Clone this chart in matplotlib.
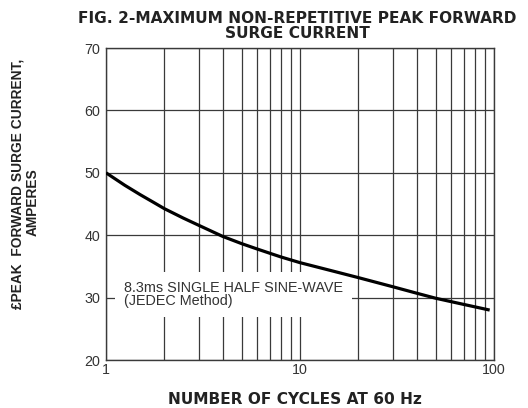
"""Fig. 2 - maximum non-repetitive peak forward surge current (datasheet curve)."""

import matplotlib
matplotlib.use("Agg")
import matplotlib.pyplot as plt
from matplotlib.ticker import LogLocator, FixedLocator, NullFormatter

plt.rcParams["font.family"] = ["Liberation Sans", "DejaVu Sans"]

# ---------- data -----------------------------------------------------------
cycles = [1, 1.25, 1.5, 1.75, 2, 2.5, 3, 4, 5, 6, 7, 8, 10, 15, 20, 30, 40, 50, 70, 95]
surge_amps = [50.0, 48.0, 46.5, 45.3, 44.25, 42.75, 41.6, 39.8, 38.65, 37.8, 37.1,
              36.5, 35.6, 34.2, 33.2, 31.75, 30.7, 29.9, 28.9, 28.0]

y_ticks = [20, 30, 40, 50, 60, 70]
x_ticks = [1, 10, 100]
x_ticklabels = ["1", "10", "100"]

title = "FIG. 2-MAXIMUM NON-REPETITIVE PEAK FORWARD\nSURGE CURRENT"
note = "8.3ms SINGLE HALF SINE-WAVE\n(JEDEC Method)"

grid_col = "#3a3a3a"
bold_font = ["DejaVu Sans"]

# ---------- figure ---------------------------------------------------------
fig = plt.figure(figsize=(5.28, 4.08), dpi=100)
ax = fig.add_axes([106 / 528, 1 - 360 / 408, (494 - 106) / 528, (360 - 48) / 408])

ax.set_xscale("log")
ax.set_xlim(1, 100)
ax.set_ylim(20, 70)

ax.xaxis.set_major_locator(FixedLocator(x_ticks))
ax.set_xticklabels(x_ticklabels)
ax.xaxis.set_minor_locator(LogLocator(base=10, subs=range(2, 10)))
ax.xaxis.set_minor_formatter(NullFormatter())
ax.set_yticks(y_ticks)

ax.tick_params(which="both", length=0, labelsize=10.3, colors="#333333", pad=4)
ax.tick_params(axis="x", pad=2)

ax.grid(True, which="both", axis="x", color=grid_col, lw=0.9, zorder=1)
ax.grid(True, which="major", axis="y", color=grid_col, lw=0.9, zorder=1)
ax.set_axisbelow(True)
for s in ax.spines.values():
    s.set_color(grid_col)
    s.set_linewidth(1.0)

ax.plot(cycles, surge_amps, color="black", lw=2.3, solid_capstyle="butt",
        solid_joinstyle="round", zorder=5)

ax.text(1.24, 30.5, note, fontsize=10.4, color="#333333", ha="left", va="center",
        linespacing=0.95, zorder=3,
        bbox=dict(boxstyle="square,pad=0.6", facecolor="white", edgecolor="none"))

fig.text(297 / 528, 1 - 26 / 408, title, ha="center", va="center", fontsize=11.1,
         fontweight="bold", family=bold_font, color="#222222", linespacing=0.92)
fig.text(295 / 528, 1 - 400 / 408, "NUMBER OF CYCLES AT 60 Hz", ha="center",
         va="center", fontsize=11.1, fontweight="bold", family=bold_font,
         color="#222222")
fig.text(18 / 528, 1 - 184 / 408, "£PEAK  FORWARD SURGE CURRENT,", rotation=90,
         ha="center", va="center", fontsize=9.9, fontweight="bold", color="#222222")
fig.text(33 / 528, 1 - 202 / 408, "AMPERES", rotation=90,
         ha="center", va="center", fontsize=9.9, fontweight="bold", color="#222222")

fig.savefig("out.png", dpi=100)
